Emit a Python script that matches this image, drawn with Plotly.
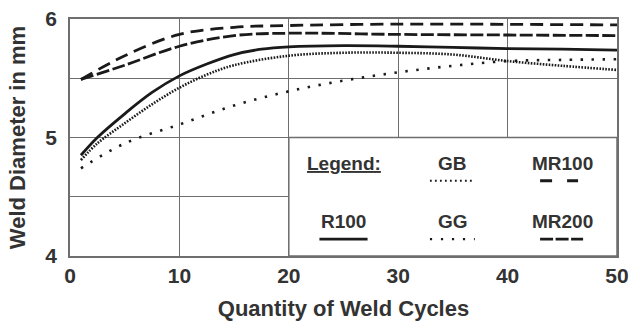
import plotly.graph_objects as go

# ---- data ----
x_r100 = [1, 2.5, 5, 7.5, 10, 12.5, 15, 17.5, 20, 25, 30, 35, 40, 45, 50]
y_r100 = [4.85, 5.00, 5.20, 5.38, 5.52, 5.62, 5.70, 5.745, 5.765, 5.775, 5.77, 5.76, 5.75, 5.745, 5.737]

x_gb = [1, 2.5, 5, 7.5, 10, 12.5, 15, 20, 25, 30, 35, 40, 45, 50]
y_gb = [4.81, 4.95, 5.12, 5.28, 5.42, 5.53, 5.61, 5.69, 5.715, 5.715, 5.70, 5.645, 5.605, 5.57]

x_gg = [1, 5, 10, 15, 20, 25, 30, 35, 40, 45, 50]
y_gg = [4.74, 4.95, 5.11, 5.27, 5.39, 5.48, 5.55, 5.605, 5.645, 5.655, 5.66]

x_mr100 = [1, 5, 10, 15, 20, 30, 40, 50]
y_mr100 = [5.49, 5.69, 5.87, 5.93, 5.945, 5.957, 5.955, 5.95]

x_mr200 = [1, 5, 10, 15, 20, 30, 40, 50]
y_mr200 = [5.49, 5.61, 5.77, 5.86, 5.88, 5.87, 5.865, 5.86]

x_ticks = [0, 10, 20, 30, 40, 50]
y_ticks = [4, 4.5, 5, 5.5, 6]
y_tick_text = ["4", "", "5", "", "6"]

FONT = "Arial, Liberation Sans, sans-serif"
TXT = "#333333"
LINE = "#1a1a1a"
GRID = "#6e6e6e"

fig = go.Figure()
series = [
    ("MR100", x_mr100, y_mr100, "13px,7px", 2.8),
    ("MR200", x_mr200, y_mr200, "13px,3.5px", 2.8),
    ("R100", x_r100, y_r100, "solid", 2.8),
    ("GB", x_gb, y_gb, "1.6px,1.4px", 2.6),
    ("GG", x_gg, y_gg, "2.4px,8.6px", 2.6),
]
for name, xs, ys, dash, w in series:
    fig.add_trace(go.Scatter(x=xs, y=ys, mode="lines", name=name,
                             line=dict(color=LINE, width=w, dash=dash, shape="spline", smoothing=1.0),
                             showlegend=False, hoverinfo="skip"))

shapes = []
# legend box (covers lower-right grid)
shapes.append(dict(type="rect", xref="x", yref="y", x0=20, x1=50, y0=4, y1=5,
                   fillcolor="white", line=dict(color=GRID, width=1.5), layer="above"))
# legend sample lines
samples = [
    (32.9, 37.0, 4.635, "1.8px,3.2px", 2.2),   # GB
    (42.97, 46.44, 4.635, "12px,15px", 2.8),   # MR100
    (22.8, 27.2, 4.143, "solid", 2.8),         # R100
    (32.9, 37.0, 4.143, "2.2px,8.8px", 2.2),   # GG
    (42.97, 46.9, 4.143, "13px,2.5px", 2.8),   # MR200
]
for x0, x1, yy, dash, w in samples:
    shapes.append(dict(type="line", xref="x", yref="y", x0=x0, x1=x1, y0=yy, y1=yy,
                       line=dict(color=LINE, width=w, dash=dash), layer="above"))

annotations = []
labels = [
    ("Legend:", 25, 4.782, True),
    ("GB", 35, 4.782, False),
    ("MR100", 45, 4.782, False),
    ("R100", 25, 4.293, False),
    ("GG", 35, 4.293, False),
    ("MR200", 45, 4.293, False),
]
for t, xx, yy, under in labels:
    f = dict(family=FONT, size=19, color=TXT, weight="bold")
    if under:
        f["lineposition"] = "under"
    annotations.append(dict(text=t, x=xx, y=yy, xref="x", yref="y", showarrow=False,
                            font=f, xanchor="center", yanchor="middle"))

fig.update_layout(
    width=630, height=321,
    margin=dict(l=70, r=13, t=19, b=65),
    paper_bgcolor="white", plot_bgcolor="white",
    font=dict(family=FONT, color=TXT),
    shapes=shapes, annotations=annotations,
)
fig.update_xaxes(range=[0, 50], tickvals=x_ticks, ticks="", showgrid=True, automargin=False,
                 gridcolor=GRID, gridwidth=1, zeroline=False,
                 showline=True, mirror=True, linecolor=GRID, linewidth=1.5,
                 tickfont=dict(family=FONT, size=21, color=TXT, weight="bold"),
                 ticklabelstandoff=0,
                 title=dict(text="Quantity of Weld Cycles", standoff=28,
                            font=dict(family=FONT, size=22, color=TXT, weight="bold")))
fig.update_yaxes(range=[4, 6], tickvals=y_ticks, ticktext=y_tick_text, ticks="", automargin=False,
                 showgrid=True, gridcolor=GRID, gridwidth=1, zeroline=False,
                 showline=True, mirror=True, linecolor=GRID, linewidth=1.5,
                 tickfont=dict(family=FONT, size=21, color=TXT, weight="bold"),
                 ticklabelstandoff=7,
                 title=dict(text="Weld Diameter in mm", standoff=14,
                            font=dict(family=FONT, size=22, color=TXT, weight="bold")))

fig.write_html("out.html")
